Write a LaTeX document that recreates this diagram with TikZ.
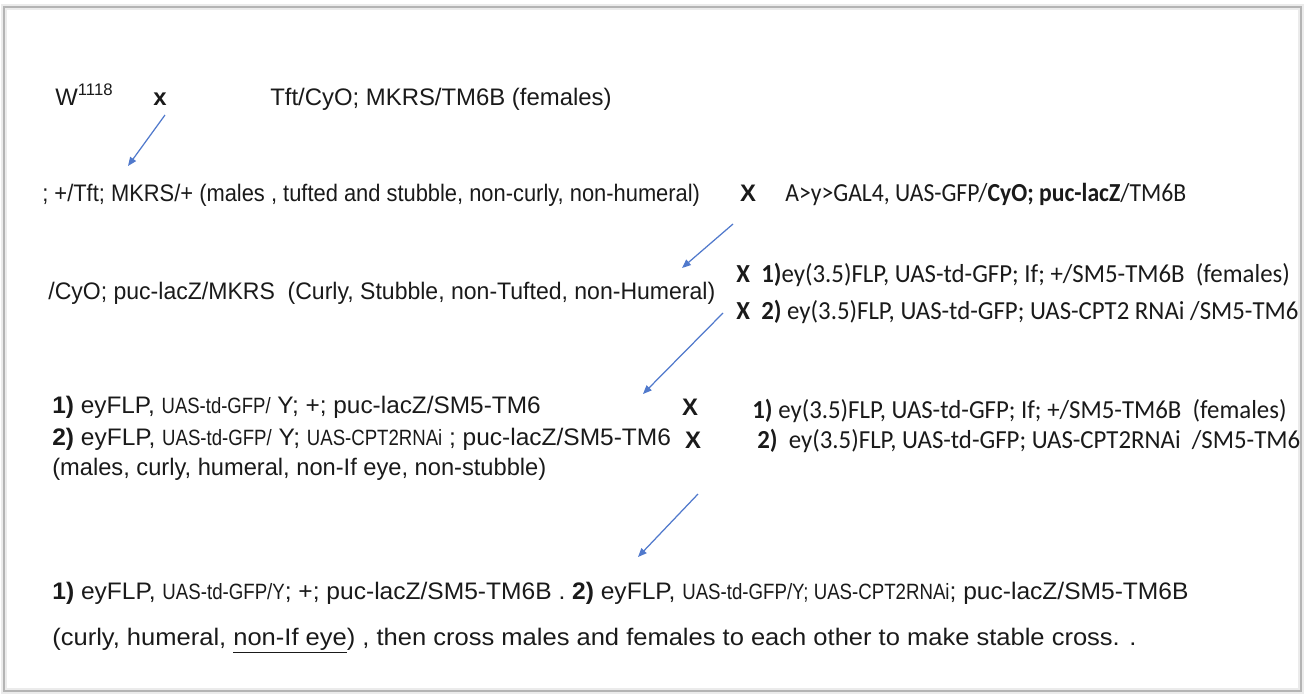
\documentclass[tikz,border=0pt]{standalone}
\usepackage{fontspec}
\setmainfont{Liberation Sans}
\newfontfamily\calfont{Carlito}
\newfontfamily\nrwfont[FakeStretch=0.82]{Liberation Sans}
\usetikzlibrary{arrows.meta}
\definecolor{ink}{HTML}{1A1A1A}
\definecolor{arrowblue}{HTML}{5079CC}
\definecolor{frame}{HTML}{B4B4B4}
\newcommand{\sm}[1]{{\nrwfont\fontsize{12.6}{15}\selectfont #1}}
\newcommand{\sq}[2]{\scalebox{#1}[1]{#2}}

\begin{document}
\begin{tikzpicture}[x=0.02cm,y=-0.02cm,
  txt/.style={anchor=base west,inner sep=0pt,font=\fontsize{13.6}{16}\selectfont,text=ink},
  cal/.style={anchor=base west,inner sep=0pt,font=\calfont\fontsize{14.8}{17}\selectfont,text=ink},
  crs/.style={anchor=base,inner sep=0pt,font=\bfseries\fontsize{13.6}{16}\selectfont,text=ink},
  link/.style={-{Triangle[length=5pt,width=4pt]},line width=0.7pt,arrowblue}]
  \useasboundingbox (0,0) rectangle (1309,697);
  \fill[white] (0,0) rectangle (1309,697);
  % ===== frame =====
  \draw[black!8,line width=3pt] (4,7) rectangle (1301,691);
  \draw[frame,line width=0.8pt] (4,7) rectangle (1301,691);

  % ===== generation 1 =====
  \node[txt] (w1118) at (55,105) {W\textsuperscript{1118}};
  \node[crs] (x1) at (160,105) {x};
  \node[txt] (tft) at (270,105) {Tft/CyO; MKRS/TM6B (females)};
  \coordinate (a1s) at (165,115);
  \coordinate (a1e) at (128,166);
  \draw[link] (a1s) -- (a1e);

  % ===== generation 2 =====
  \node[txt] (males1) at (42,201) {\sq{0.916}{; +/Tft; MKRS/+ (males , tufted and stubble, non-curly, non-humeral)}};
  \node[crs] (x2) at (748,201) {X};
  \node[cal] (gal4) at (785,201) {\sq{0.91}{A>y>GAL4, UAS-GFP/\textbf{CyO; puc-lacZ}/TM6B}};
  \coordinate (a2s) at (733,224);
  \coordinate (a2e) at (682,268);
  \draw[link] (a2s) -- (a2e);

  % ===== generation 3 =====
  \node[txt] (cyo) at (48,299) {\sq{0.964}{/CyO; puc-lacZ/MKRS\ \ (Curly, Stubble, non-Tufted, non-Humeral)}};
  \node[cal] (fem1) at (736,282) {\sq{0.955}{\textbf{X}\ \ \textbf{1)}ey(3.5)FLP, UAS-td-GFP; If; +/SM5-TM6B\ \ (females)}};
  \node[cal] (fem2) at (736,319) {\sq{0.955}{\textbf{X}\ \ \textbf{2)} ey(3.5)FLP, UAS-td-GFP; UAS-CPT2 RNAi /SM5-TM6}};
  \coordinate (a3s) at (723,313);
  \coordinate (a3e) at (643,394);
  \draw[link] (a3s) -- (a3e);

  % ===== generation 4 =====
  \node[txt] (m1) at (52,413) {\sq{1.02}{\textbf{1)} eyFLP, \sm{UAS-td-GFP/} Y; +; puc-lacZ/SM5-TM6}};
  \node[txt] (m2) at (52,445) {\sq{1.025}{\textbf{2)} eyFLP, \sm{UAS-td-GFP/} Y; \sm{UAS-CPT2RNAi} ; puc-lacZ/SM5-TM6}};
  \node[txt] (mnote) at (52,475) {\sq{0.99}{(males, curly, humeral, non-If eye, non-stubble)}};
  \node[crs] (x3) at (690,415) {X};
  \node[crs] (x4) at (693,448) {X};
  \node[cal] (f1) at (752,418) {\sq{0.955}{\textbf{1)} ey(3.5)FLP, UAS-td-GFP; If; +/SM5-TM6B\ \ (females)}};
  \node[cal] (f2) at (757,448) {\sq{0.955}{\textbf{2)}\ \ ey(3.5)FLP, UAS-td-GFP; UAS-CPT2RNAi\ \ /SM5-TM6}};
  \coordinate (a4s) at (698,494);
  \coordinate (a4e) at (638,557);
  \draw[link] (a4s) -- (a4e);

  % ===== stable stock =====
  \node[txt] (stock) at (52,599) {\sq{1.028}{\textbf{1)} eyFLP, \sm{UAS-td-GFP/Y}; +; puc-lacZ/SM5-TM6B . \textbf{2)} eyFLP, \sm{UAS-td-GFP/Y; UAS-CPT2RNAi}; puc-lacZ/SM5-TM6B}};
  \node[txt] (final) at (52,645) {\sq{1.068}{(curly, humeral, \underline{non-If eye}) , then cross males and females to each other to make stable cross. .}};
\end{tikzpicture}
\end{document}
